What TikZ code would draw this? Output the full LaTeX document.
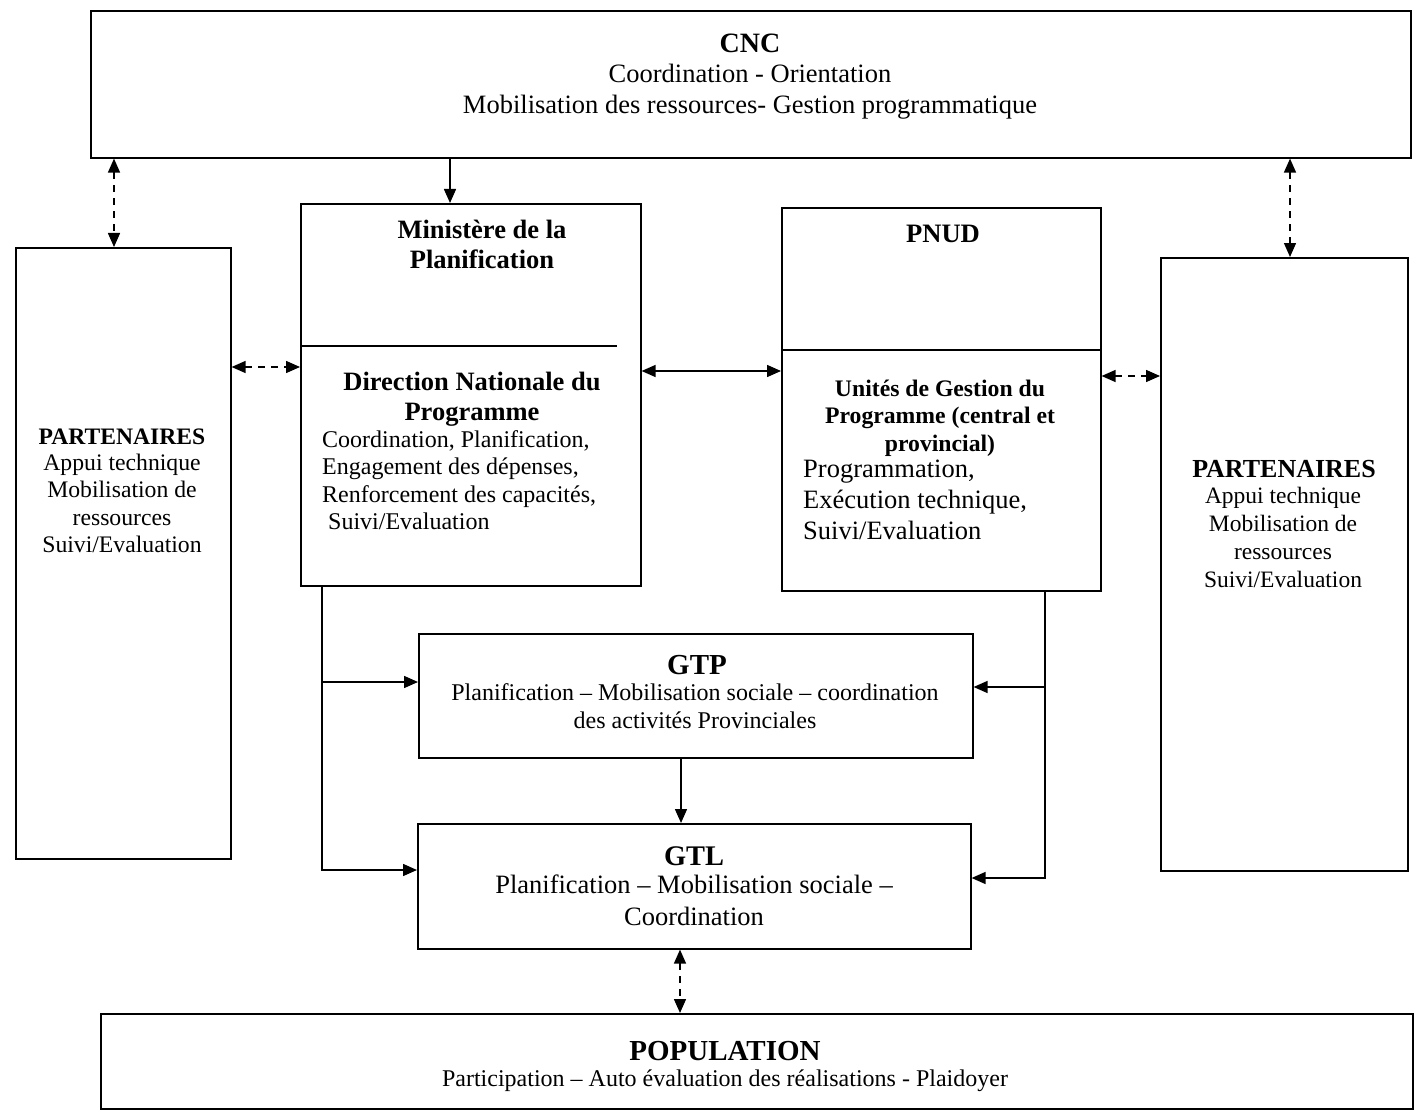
\documentclass[tikz,border=0pt]{standalone}
\usepackage{fontspec}
\setmainfont{Liberation Serif}
\usetikzlibrary{arrows.meta}
\newcommand{\fsz}[2]{\fontsize{#1}{#2}\selectfont}
\begin{document}
\begin{tikzpicture}[x=1pt,y=-1pt,
  box/.style={draw, line width=1.6pt, anchor=north west, inner sep=0pt},
  txt/.style={inner sep=0pt, align=center, anchor=base},
  ltxt/.style={inner sep=0pt, align=left, anchor=base west},
  arr/.style={line width=1.5pt, -{Triangle[length=14pt,width=12pt]}},
  sarr/.style={line width=1.5pt, {Triangle[length=14pt,width=12pt]}-{Triangle[length=14pt,width=12pt]}},
  darr/.style={line width=1.5pt, dash pattern=on 7pt off 6pt, {Triangle[length=14pt,width=12pt]}-{Triangle[length=14pt,width=12pt]}},
  divider/.style={line width=1.6pt}]
\useasboundingbox[fill=white] (0,0) rectangle (1416,1118);

% boxes
\node[box, minimum width=1320pt, minimum height=147pt] (cnc) at (90,10) {};
\node[box, minimum width=215pt, minimum height=611pt] (lp) at (15,247) {};
\node[box, minimum width=340pt, minimum height=382pt] (mp) at (300,203) {};
\node[box, minimum width=319pt, minimum height=383pt] (pnud) at (781,207) {};
\node[box, minimum width=247pt, minimum height=613pt] (rp) at (1160,257) {};
\node[box, minimum width=554pt, minimum height=124pt] (gtp) at (418,633) {};
\node[box, minimum width=553pt, minimum height=125pt] (gtl) at (417,823) {};
\node[box, minimum width=1312pt, minimum height=95pt] (pop) at (100,1013) {};

% dividers
\coordinate (md) at (617,346);
\coordinate (pd) at (0,350);
\draw[divider] (mp.west |- md) -- (md);
\draw[divider] (pnud.west |- pd) -- (pnud.east |- pd);

% texts (multi-line nodes are anchored at the baseline of their last line)
\node[txt, font=\fsz{28}{31}\bfseries] (cnct) at (750,53) {CNC};
\node[txt, font=\fsz{26.5}{31}] (cncb) at (750,114) {Coordination - Orientation\\Mobilisation des ressources- Gestion programmatique};

\node[txt, font=\fsz{26.5}{30}\bfseries] (mpt) at (482,268) {Ministère de la\\Planification};
\node[txt, font=\fsz{26.5}{30}\bfseries] (dnpt) at (472,420) {Direction Nationale du\\Programme};
\node[ltxt, font=\fsz{24}{27.5}] (dnpb) at (322,529.5) {Coordination, Planification,\\Engagement des dépenses,\\Renforcement des capacités,\\\hspace{6pt}Suivi/Evaluation};

\node[txt, font=\fsz{26.6}{30}\bfseries] (pnudt) at (943,242) {PNUD};
\node[txt, font=\fsz{23.7}{27.5}\bfseries] (ugpt) at (940,451) {Unités de Gestion du\\Programme (central et\\provincial)};
\node[ltxt, font=\fsz{26.5}{31}] (ugpb) at (803,539) {Programmation,\\Exécution technique,\\Suivi/Evaluation};

\node[txt, font=\fsz{23.6}{27.5}\bfseries] (lpt) at (122,444) {PARTENAIRES};
\node[txt, font=\fsz{23.7}{27.5}] (lpb) at (122,552.5) {Appui technique\\Mobilisation de\\ressources\\Suivi/Evaluation};

\node[txt, font=\fsz{26}{28}\bfseries] (rpt) at (1284,477) {PARTENAIRES};
\node[txt, font=\fsz{23.5}{28}] (rpb) at (1283,587) {Appui technique\\Mobilisation de\\ressources\\Suivi/Evaluation};

\node[txt, font=\fsz{29}{30}\bfseries] (gtpt) at (697,674) {GTP};
\node[txt, font=\fsz{24}{28}] (gtpb) at (695,728) {Planification – Mobilisation sociale – coordination\\des activités Provinciales};

\node[txt, font=\fsz{28.4}{30}\bfseries] (gtlt) at (694,865) {GTL};
\node[txt, font=\fsz{26.5}{32}] (gtlb) at (694,925) {Planification – Mobilisation sociale –\\Coordination};

\node[txt, font=\fsz{29}{30}\bfseries] (popt) at (725,1060) {POPULATION};
\node[txt, font=\fsz{24}{28}] (popb) at (725,1086) {Participation – Auto évaluation des réalisations - Plaidoyer};

% helper coordinates
\coordinate (xa) at (450,0);
\coordinate (xb) at (114,0);
\coordinate (xc) at (1290,0);
\coordinate (ya) at (0,367);
\coordinate (yb) at (0,371);
\coordinate (yc) at (0,376);
\coordinate (xl) at (322,0);
\coordinate (xr) at (1045,0);
\coordinate (y1) at (0,682);
\coordinate (y2) at (0,870);
\coordinate (y3) at (0,687);
\coordinate (y4) at (0,878);
\coordinate (xg) at (681,0);
\coordinate (xp) at (680,0);

% connectors
\draw[arr] (cnc.south -| xa) -- (mp.north -| xa);
\draw[darr] (cnc.south -| xb) -- (lp.north -| xb);
\draw[darr] (cnc.south -| xc) -- (rp.north -| xc);
\draw[darr] (lp.east |- ya) -- (mp.west |- ya);
\draw[sarr] (mp.east |- yb) -- (pnud.west |- yb);
\draw[darr] (pnud.east |- yc) -- (rp.west |- yc);
\draw[arr] (mp.south -| xl) |- (gtl.west |- y2);
\draw[arr] (xl |- y1) -- (gtp.west |- y1);
\draw[arr] (pnud.south -| xr) |- (gtl.east |- y4);
\draw[arr] (xr |- y3) -- (gtp.east |- y3);
\draw[arr] (gtp.south -| xg) -- (gtl.north -| xg);
\draw[darr] (gtl.south -| xp) -- (pop.north -| xp);
\end{tikzpicture}
\end{document}
